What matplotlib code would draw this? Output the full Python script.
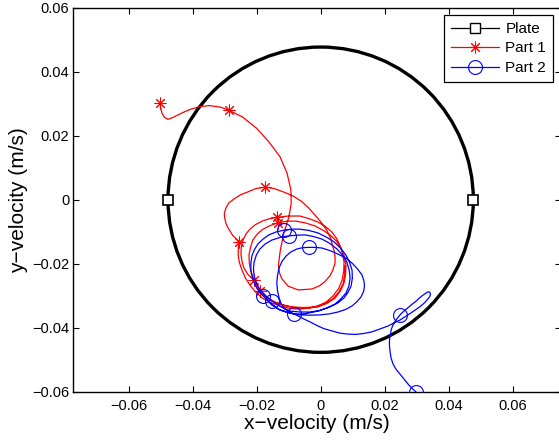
import matplotlib
matplotlib.use("Agg")
import matplotlib.pyplot as plt
from matplotlib.lines import Line2D
from matplotlib.patches import Circle

plt.rcParams['font.family'] = ['Liberation Sans', 'DejaVu Sans']
plt.rcParams['axes.unicode_minus'] = True

# --- data (m/s) ---
plate_radius = 0.0477

part1_x = [-0.0502, -0.0500, -0.0496, -0.0488, -0.0477, -0.0462, -0.0446, -0.0427, -0.0408, -0.0378,
           -0.0346, -0.0312, -0.0288, -0.0245, -0.0200, -0.0162, -0.0127, -0.0105, -0.0093, -0.0092,
           -0.0099, -0.0115, -0.0126, -0.0132, -0.0129, -0.0122, -0.0102, -0.0070, -0.0027, -0.0002,
           0.0013, 0.0029, 0.0038, 0.0045, 0.0045, 0.0043, 0.0038, 0.0031, 0.0019, 0.0001,
           -0.0018, -0.0037, -0.0059, -0.0087, -0.0118, -0.0146, -0.0173, -0.0202, -0.0226, -0.0251,
           -0.0271, -0.0287, -0.0296, -0.0301, -0.0300, -0.0296, -0.0289, -0.0274, -0.0255, -0.0257,
           -0.0258, -0.0254, -0.0246, -0.0235, -0.0221, -0.0204, -0.0183, -0.0157, -0.0127, -0.0096,
           -0.0065, -0.0037, -0.0008, 0.0017, 0.0038, 0.0056, 0.0067, 0.0072, 0.0073, 0.0068,
           0.0060, 0.0049, 0.0035, 0.0015, -0.0008, -0.0037, -0.0065, -0.0101, -0.0135, -0.0162,
           -0.0183, -0.0204, -0.0221, -0.0233, -0.0243, -0.0248, -0.0249, -0.0246, -0.0240, -0.0227,
           -0.0209, -0.0198, -0.0183, -0.0165, -0.0143, -0.0112, -0.0080, -0.0044, -0.0008, 0.0020,
           0.0045, 0.0062, 0.0073, 0.0078, 0.0079, 0.0074, 0.0063, 0.0049, 0.0029, 0.0007,
           -0.0018, -0.0046, -0.0077, -0.0105, -0.0132, -0.0158, -0.0180, -0.0198, -0.0212, -0.0219,
           -0.0224, -0.0223, -0.0218, -0.0207, -0.0191, -0.0174, -0.0152, -0.0121, -0.0090, -0.0054,
           -0.0018, 0.0013, 0.0038, 0.0057, 0.0070, 0.0075, 0.0076]
part1_y = [0.0301, 0.0287, 0.0271, 0.0257, 0.0251, 0.0257, 0.0265, 0.0274, 0.0282, 0.0291,
           0.0294, 0.0289, 0.0280, 0.0259, 0.0223, 0.0181, 0.0134, 0.0083, 0.0030, -0.0011,
           -0.0053, -0.0104, -0.0157, -0.0204, -0.0228, -0.0246, -0.0270, -0.0282, -0.0279, -0.0268,
           -0.0256, -0.0238, -0.0220, -0.0198, -0.0182, -0.0163, -0.0147, -0.0120, -0.0095, -0.0070,
           -0.0048, -0.0026, -0.0006, 0.0012, 0.0025, 0.0035, 0.0039, 0.0035, 0.0025, 0.0015,
           0.0002, -0.0010, -0.0026, -0.0042, -0.0057, -0.0074, -0.0089, -0.0113, -0.0131, -0.0151,
           -0.0173, -0.0196, -0.0220, -0.0245, -0.0267, -0.0288, -0.0307, -0.0321, -0.0332, -0.0340,
           -0.0342, -0.0339, -0.0332, -0.0320, -0.0301, -0.0278, -0.0251, -0.0223, -0.0195, -0.0167,
           -0.0142, -0.0120, -0.0101, -0.0084, -0.0070, -0.0059, -0.0051, -0.0051, -0.0055, -0.0060,
           -0.0067, -0.0078, -0.0092, -0.0107, -0.0126, -0.0148, -0.0170, -0.0192, -0.0213, -0.0234,
           -0.0251, -0.0270, -0.0288, -0.0306, -0.0320, -0.0331, -0.0338, -0.0339, -0.0335, -0.0324,
           -0.0307, -0.0285, -0.0260, -0.0232, -0.0204, -0.0176, -0.0151, -0.0129, -0.0110, -0.0095,
           -0.0082, -0.0073, -0.0067, -0.0067, -0.0072, -0.0081, -0.0092, -0.0107, -0.0126, -0.0148,
           -0.0173, -0.0199, -0.0226, -0.0256, -0.0284, -0.0303, -0.0317, -0.0328, -0.0335, -0.0337,
           -0.0335, -0.0324, -0.0310, -0.0288, -0.0263, -0.0235, -0.0207]

part1_star_x = [-0.0502, -0.0288, -0.0173, -0.0255, -0.0135, -0.0209, -0.0132, -0.0191]
part1_star_y = [0.0301, 0.0280, 0.0039, -0.0131, -0.0055, -0.0251, -0.0072, -0.0284]

part2_x = [0.0297, 0.0284, 0.0273, 0.0260, 0.0248, 0.0235, 0.0226, 0.0220, 0.0217, 0.0215,
           0.0215, 0.0218, 0.0221, 0.0226, 0.0232, 0.0240, 0.0248, 0.0259, 0.0270, 0.0284,
           0.0298, 0.0310, 0.0320, 0.0329, 0.0335, 0.0341, 0.0343, 0.0341, 0.0335, 0.0326,
           0.0313, 0.0298, 0.0282, 0.0265, 0.0248, 0.0229, 0.0210, 0.0185, 0.0160, 0.0135,
           0.0110, 0.0085, 0.0060, 0.0035, 0.0010, -0.0012, -0.0033, -0.0052, -0.0071, -0.0091,
           -0.0112, -0.0123, -0.0130, -0.0135, -0.0137, -0.0135, -0.0130, -0.0121, -0.0108, -0.0093,
           -0.0074, -0.0057, -0.0038, -0.0018, 0.0004, 0.0029, 0.0054, 0.0078, 0.0098, 0.0115,
           0.0129, 0.0135, 0.0137, 0.0134, 0.0126, 0.0113, 0.0098, 0.0078, 0.0054, 0.0026,
           -0.0002, -0.0033, -0.0065, -0.0096, -0.0127, -0.0155, -0.0180, -0.0194, -0.0205, -0.0213,
           -0.0218, -0.0218, -0.0215, -0.0207, -0.0196, -0.0180, -0.0162, -0.0140, -0.0114, -0.0090,
           -0.0065, -0.0037, -0.0008, 0.0018, 0.0042, 0.0062, 0.0079, 0.0090, 0.0098, 0.0099,
           0.0095, 0.0085, 0.0073, 0.0053, 0.0029, -0.0002, -0.0033, -0.0065, -0.0096, -0.0126,
           -0.0153, -0.0173, -0.0190, -0.0201, -0.0208, -0.0210, -0.0208, -0.0201, -0.0190, -0.0173,
           -0.0152, -0.0127, -0.0100, -0.0074, -0.0049, -0.0023, 0.0004, 0.0029, 0.0051, 0.0068,
           0.0082, 0.0089, 0.0092, 0.0088, 0.0079, 0.0063, 0.0045, 0.0020, -0.0008, -0.0046,
           -0.0082, -0.0108, -0.0133, -0.0154, -0.0171]
part2_y = [-0.0600, -0.0588, -0.0576, -0.0560, -0.0545, -0.0529, -0.0513, -0.0495, -0.0476, -0.0457,
           -0.0438, -0.0420, -0.0404, -0.0392, -0.0381, -0.0370, -0.0360, -0.0349, -0.0340, -0.0328,
           -0.0317, -0.0306, -0.0298, -0.0292, -0.0288, -0.0289, -0.0295, -0.0303, -0.0310, -0.0321,
           -0.0332, -0.0343, -0.0354, -0.0365, -0.0376, -0.0385, -0.0395, -0.0404, -0.0413, -0.0418,
           -0.0421, -0.0420, -0.0417, -0.0410, -0.0403, -0.0393, -0.0382, -0.0373, -0.0363, -0.0353,
           -0.0342, -0.0326, -0.0307, -0.0284, -0.0260, -0.0237, -0.0213, -0.0193, -0.0176, -0.0163,
           -0.0154, -0.0150, -0.0149, -0.0149, -0.0151, -0.0159, -0.0170, -0.0182, -0.0198, -0.0216,
           -0.0235, -0.0253, -0.0270, -0.0287, -0.0304, -0.0319, -0.0332, -0.0343, -0.0351, -0.0357,
           -0.0360, -0.0361, -0.0360, -0.0354, -0.0345, -0.0324, -0.0301, -0.0284, -0.0267, -0.0243,
           -0.0220, -0.0198, -0.0176, -0.0156, -0.0138, -0.0123, -0.0110, -0.0101, -0.0095, -0.0092,
           -0.0092, -0.0096, -0.0104, -0.0117, -0.0132, -0.0151, -0.0173, -0.0195, -0.0220, -0.0245,
           -0.0270, -0.0290, -0.0307, -0.0323, -0.0335, -0.0346, -0.0351, -0.0351, -0.0348, -0.0334,
           -0.0316, -0.0301, -0.0282, -0.0260, -0.0238, -0.0217, -0.0195, -0.0173, -0.0154, -0.0138,
           -0.0126, -0.0118, -0.0113, -0.0111, -0.0110, -0.0115, -0.0123, -0.0137, -0.0154, -0.0173,
           -0.0195, -0.0220, -0.0245, -0.0270, -0.0292, -0.0310, -0.0326, -0.0338, -0.0348, -0.0356,
           -0.0358, -0.0351, -0.0342, -0.0328, -0.0310]

part2_circle_x = [0.0297, 0.0248, -0.0038, -0.0180, -0.0114, -0.0153, -0.0100, -0.0082]
part2_circle_y = [-0.0600, -0.0360, -0.0149, -0.0301, -0.0095, -0.0316, -0.0113, -0.0358]

ticks = [-0.06, -0.04, -0.02, 0, 0.02, 0.04, 0.06]
tick_labels = ['\u22120.06', '\u22120.04', '\u22120.02', '0', '0.02', '0.04', '0.06']

# MATLAB-like asterisk marker
star = (8, 2, 0)

# --- figure ---
fig = plt.figure(figsize=(5.59, 4.43), dpi=100)
ax = fig.add_axes([73.3 / 559, 51.3 / 443, (561 - 73.3) / 559, 384 / 443])

ax.add_patch(Circle((0, 0), plate_radius, fill=False, edgecolor='black', lw=2.4, zorder=2))
ax.plot([-plate_radius, plate_radius], [0, 0], ls='none', marker='s', ms=7,
        mfc='white', mec='black', mew=1.2, zorder=3)

ax.plot(part1_x, part1_y, color='red', lw=0.9, zorder=4)
ax.plot(part1_star_x, part1_star_y, ls='none', marker=star, ms=8.5, mec='red', mew=0.75, zorder=4)
ax.plot(part2_x, part2_y, color='blue', lw=0.9, zorder=5)
ax.plot(part2_circle_x, part2_circle_y, ls='none', marker='o', ms=10, mfc='none',
        mec='blue', mew=0.8, zorder=5)

ax.set_xlim(-0.0773, 0.0751)
ax.set_ylim(-0.06, 0.06)
ax.set_xticks(ticks)
ax.set_xticklabels(tick_labels)
ax.set_yticks(ticks)
ax.set_yticklabels(tick_labels)
ax.tick_params(direction='in', length=4, width=0.8, top=True, right=True, labelsize=10.5)
ax.tick_params(axis='x', pad=5)
ax.tick_params(axis='y', pad=3)
for s in ax.spines.values():
    s.set_linewidth(1.0)

ax.set_xlabel('x\u2212velocity (m/s)', fontsize=15, labelpad=1)
ax.set_ylabel('y\u2212velocity (m/s)', fontsize=15, labelpad=3)

handles = [
    Line2D([], [], color='black', lw=0.9, marker='s', ms=7, mfc='white', mec='black'),
    Line2D([], [], color='red', lw=0.9, marker=star, ms=8.5, mec='red', mew=0.75),
    Line2D([], [], color='blue', lw=0.9, marker='o', ms=10, mfc='none', mec='blue', mew=0.8),
]
leg = ax.legend(handles, ['Plate', 'Part 1', 'Part 2'], loc='upper right',
                bbox_to_anchor=(553 / 559, 1 - 15 / 443), bbox_transform=fig.transFigure,
                fancybox=False, framealpha=1, edgecolor='black', fontsize=11,
                handlelength=3.1, borderaxespad=0, borderpad=0.45, labelspacing=0.36,
                handletextpad=0.45)
leg.get_frame().set_linewidth(0.9)

fig.savefig('out.png', dpi=100)
